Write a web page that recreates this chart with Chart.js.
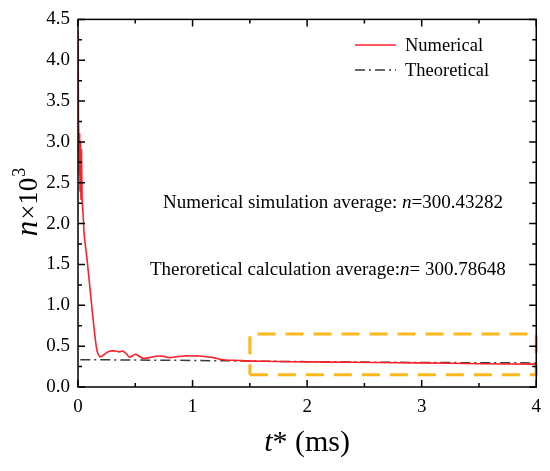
<!DOCTYPE html>
<html>
<head>
<meta charset="utf-8">
<script src="https://cdn.jsdelivr.net/npm/chart.js@4"></script>
<style>
  html, body { margin: 0; padding: 0; background: #fff; }
  #wrap { width: 550px; height: 471px; }
</style>
</head>
<body>
<div id="wrap"><canvas id="nChart" width="550" height="471"></canvas></div>
<script>
// values (t* in ms, n in units of 10^3)
const numT = [0, 0.002, 0.004, 0.006, 0.010, 0.014, 0.018, 0.022, 0.026, 0.030, 0.036, 0.045,
  0.055, 0.08, 0.11, 0.14, 0.165, 0.19, 0.21, 0.25, 0.28, 0.33, 0.36, 0.39, 0.42, 0.45,
  0.50, 0.53, 0.57, 0.62, 0.70, 0.75, 0.80, 0.86, 0.92, 1.00, 1.06, 1.12, 1.18, 1.24,
  1.29, 1.40, 1.47, 1.60, 1.87, 2.20, 2.60, 3.00, 3.50, 4.00];
const numN = [4.36, 3.9, 3.3, 3.15, 2.6, 3.1, 2.4, 3.0, 2.3, 2.9, 2.3, 2.1,
  1.85, 1.55, 1.13, 0.72, 0.45, 0.37, 0.38, 0.42, 0.44, 0.44, 0.43, 0.44, 0.41, 0.365,
  0.40, 0.38, 0.35, 0.36, 0.38, 0.375, 0.36, 0.37, 0.38, 0.38, 0.38, 0.37, 0.36, 0.34,
  0.33, 0.325, 0.32, 0.315, 0.31, 0.305, 0.30, 0.295, 0.285, 0.28];

const theoT = [0.02, 1, 2, 3, 4];
const theoN = [0.335, 0.325, 0.31, 0.30, 0.295];

// highlighted zoom box
const boxT = [1.5, 4, 4, 1.5, 1.5];
const boxN = [0.15, 0.15, 0.65, 0.65, 0.15];

const xTicks = [0, 1, 2, 3, 4];
const yTicks = [0, 0.5, 1, 1.5, 2, 2.5, 3, 3.5, 4, 4.5];
const xMinor = [0.5, 1.5, 2.5, 3.5];
const yMinor = [0.25, 0.75, 1.25, 1.75, 2.25, 2.75, 3.25, 3.75, 4.25];

const seriesNames = ['Numerical', 'Theoretical'];
const noteNum = ['Numerical simulation average: ', 'n', '=300.43282'];
const noteTheo = ['Theroretical calculation average:', 'n', '= 300.78648'];

const SERIF = '"Liberation Serif", "Times New Roman", serif';
const RED = 'rgb(255,32,40)';
const DARK = '#3a3a3a';
const GOLD = '#FFB81C';

function pts(xs, ys) { return xs.map((x, i) => ({ x: x, y: ys[i] })); }

// frame, inward ticks, titles, legend and notes
const decor = {
  id: 'decor',
  afterDatasetsDraw(chart) {
    const ctx = chart.ctx;
    const a = chart.chartArea;
    const xs = chart.scales.x, ys = chart.scales.y;
    ctx.save();
    ctx.strokeStyle = '#000';
    ctx.lineWidth = 1.5;
    ctx.setLineDash([]);
    ctx.strokeRect(a.left, a.top, a.right - a.left, a.bottom - a.top);

    ctx.beginPath();
    const tickX = (v, len) => {
      const px = xs.getPixelForValue(v);
      ctx.moveTo(px, a.bottom); ctx.lineTo(px, a.bottom - len);
      ctx.moveTo(px, a.top); ctx.lineTo(px, a.top + len);
    };
    const tickY = (v, len) => {
      const py = ys.getPixelForValue(v);
      ctx.moveTo(a.left, py); ctx.lineTo(a.left + len, py);
      ctx.moveTo(a.right, py); ctx.lineTo(a.right - len, py);
    };
    xTicks.forEach(v => tickX(v, 7));
    xMinor.forEach(v => tickX(v, 4));
    yTicks.forEach(v => tickY(v, 7));
    yMinor.forEach(v => tickY(v, 4));
    ctx.stroke();

    ctx.fillStyle = '#000';
    ctx.textBaseline = 'alphabetic';

    // x title
    const cx = (a.left + a.right) / 2;
    ctx.font = 'italic 30px ' + SERIF;
    const w1 = ctx.measureText('t').width;
    ctx.font = '30px ' + SERIF;
    const w2 = ctx.measureText('* (ms)').width;
    let x0 = cx - (w1 + w2) / 2;
    ctx.font = 'italic 30px ' + SERIF;
    ctx.fillText('t', x0, 451);
    ctx.font = '30px ' + SERIF;
    ctx.fillText('* (ms)', x0 + w1, 451);

    // y title
    ctx.save();
    ctx.translate(37, 203);
    ctx.rotate(-Math.PI / 2);
    ctx.font = 'italic 31px ' + SERIF;
    const n1 = ctx.measureText('n').width;
    ctx.font = '27px ' + SERIF;
    const n2 = ctx.measureText('×10').width;
    ctx.font = '18px ' + SERIF;
    const n3 = ctx.measureText('3').width;
    let p = -(n1 + n2 + n3) / 2;
    ctx.font = 'italic 31px ' + SERIF;
    ctx.fillText('n', p, 0);
    ctx.font = '27px ' + SERIF;
    ctx.fillText('×10', p + n1 + 1, 0);
    ctx.font = '18px ' + SERIF;
    ctx.fillText('3', p + n1 + n2 + 2, -12);
    ctx.restore();

    // legend
    const dsets = chart.data.datasets;
    [0, 1].forEach(i => {
      const ly = 45 + i * 25;
      ctx.beginPath();
      ctx.strokeStyle = dsets[i].borderColor;
      ctx.lineWidth = 1.5;
      ctx.setLineDash(dsets[i].borderDash || []);
      ctx.moveTo(355, ly); ctx.lineTo(396, ly);
      ctx.stroke();
      ctx.setLineDash([]);
      ctx.font = '18.5px ' + SERIF;
      ctx.textBaseline = 'middle';
      ctx.fillText(seriesNames[i], 405, ly + 1);
    });

    // notes
    ctx.textBaseline = 'alphabetic';
    const note = (parts, x, y) => {
      parts.forEach((s, i) => {
        ctx.font = (i === 1 ? 'italic ' : '') + '19px ' + SERIF;
        ctx.fillText(s, x, y);
        x += ctx.measureText(s).width;
      });
    };
    note(noteNum, 163, 208);
    note(noteTheo, 150, 275);
    ctx.restore();
  }
};

new Chart(document.getElementById('nChart'), {
  type: 'line',
  data: {
    datasets: [{
      label: seriesNames[0],
      data: pts(numT, numN),
      borderColor: RED,
      borderWidth: 1.6,
      pointRadius: 0,
      tension: 0.25
    }, {
      label: seriesNames[1],
      data: pts(theoT, theoN),
      borderColor: DARK,
      borderWidth: 1.5,
      borderDash: [10, 4, 2, 4],
      pointRadius: 0,
      tension: 0
    }, {
      label: 'box',
      data: pts(boxT, boxN),
      borderColor: GOLD,
      borderWidth: 3,
      borderDash: [18, 10],
      pointRadius: 0,
      tension: 0,
      clip: false
    }]
  },
  options: {
    responsive: false,
    animation: false,
    layout: { padding: { top: 17, right: 12, left: 0, bottom: 0 } },
    plugins: { legend: { display: false }, tooltip: { enabled: false } },
    scales: {
      x: {
        type: 'linear',
        min: 0, max: 4,
        afterBuildTicks: s => { s.ticks = xTicks.map(v => ({ value: v })); },
        afterFit: s => { s.height = 84; },
        ticks: {
          padding: 9,
          color: '#000',
          font: { family: SERIF, size: 19 },
          maxRotation: 0,
          callback: v => String(v)
        },
        grid: { display: false, drawTicks: false },
        border: { display: false }
      },
      y: {
        min: 0, max: 4.5,
        afterBuildTicks: s => { s.ticks = yTicks.map(v => ({ value: v })); },
        afterFit: s => { s.width = 78; },
        ticks: {
          padding: 8,
          color: '#000',
          font: { family: SERIF, size: 19 },
          callback: v => Number(v).toFixed(1)
        },
        grid: { display: false, drawTicks: false },
        border: { display: false }
      }
    }
  },
  plugins: [decor]
});
</script>
</body>
</html>
